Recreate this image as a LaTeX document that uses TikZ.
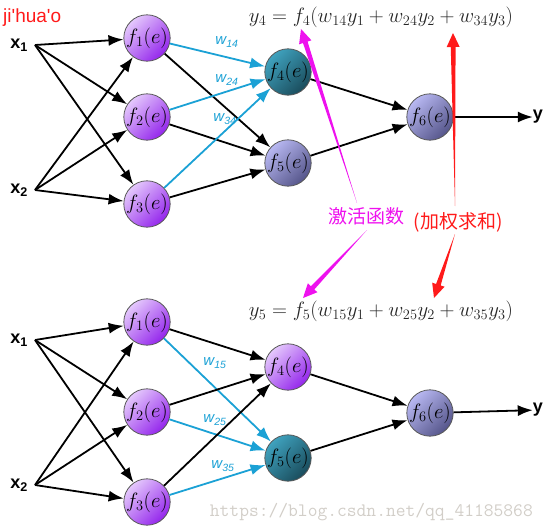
\documentclass[tikz,border=0pt]{standalone}
\usepackage{fontspec}
\setsansfont{Liberation Sans}
\newfontfamily\cjkfont{Noto Sans CJK SC}
\usetikzlibrary{positioning, arrows.meta, calc}
\definecolor{NetBlue}{HTML}{1BA1D5}
\definecolor{PurpleLight}{HTML}{E4C8FC}
\definecolor{PurpleDark}{HTML}{9426EC}
\definecolor{TealLight}{HTML}{3FA2BE}
\definecolor{TealDark}{HTML}{1A4C5C}
\definecolor{LavLight}{HTML}{B8B8F2}
\definecolor{LavDark}{HTML}{55558A}
\definecolor{EqGray}{HTML}{262626}
\definecolor{MarkRed}{HTML}{FF1A1A}
\definecolor{MarkMagenta}{HTML}{EE11EE}
\definecolor{WebGray}{HTML}{D2CEC8}
% wedge arrow: colour, tail, head
\newcommand{\taperarrow}[3]{%
  \fill[#1] (#2) -- ($(#3)!14pt!(#2)!2.4pt!90:(#3)$) -- ($(#3)!14pt!(#2)!6.5pt!90:(#3)$)
    -- (#3) -- ($(#3)!14pt!(#2)!6.5pt!-90:(#3)$) -- ($(#3)!14pt!(#2)!2.4pt!-90:(#3)$) -- cycle;}

\begin{document}
\begin{tikzpicture}[x=1pt, y=-1pt,
  neuron/.style={circle, minimum size=44pt, inner sep=0pt, draw=black!65, line width=0.8pt,
    font=\fontsize{19.5}{19.5}\selectfont},
  hid/.style={neuron, top color=PurpleLight, bottom color=PurpleDark, shading angle=45},
  act/.style={neuron, top color=TealLight, bottom color=TealDark, shading angle=45},
  outn/.style={neuron, top color=LavLight, bottom color=LavDark, shading angle=45},
  inp/.style={font=\fontsize{18}{18}\sffamily\bfseries, inner sep=0pt},
  arr/.style={line width=1.8pt, -{Latex[length=15pt, width=11pt]}},
  warr/.style={arr, NetBlue},
  wlbl/.style={font=\fontsize{15}{15}\sffamily\itshape, text=NetBlue, inner sep=0pt},
  eq/.style={font=\fontsize{21}{21}\selectfont, text=EqGray, inner sep=0pt},
  note/.style={inner sep=0pt, font=\fontsize{19}{19}\cjkfont},
]
  \useasboundingbox (0,0) rectangle (544,531);

  % top network
  \coordinate (tin1) at (35,45);
  \coordinate (tin2) at (35,190);
  \node[inp, left=7pt of tin1] (tx1) {x\textsubscript{1}};
  \node[inp, left=7pt of tin2] (tx2) {x\textsubscript{2}};
  \node[hid] (t1) at (147,38) {$f_1(e)$};
  \node[hid] (t2) at (147,117) {$f_2(e)$};
  \node[hid] (t3) at (147,204) {$f_3(e)$};
  \node[act] (t4) at (288,72) {$f_4(e)$};
  \node[outn] (t5) at (288,163) {$f_5(e)$};
  \node[outn] (t6) at (430,117) {$f_6(e)$};
  \node[inp] (ty) at (538,117) {y};
  \foreach \i in {1,2}
    \foreach \j in {1,2,3}
      \draw[arr] (tin\i) -- (t\j);
  \foreach \j in {1,2,3} {
    \draw[arr] (t\j) -- (t5);
    \draw[warr] (t\j) -- (t4);
  }
  \draw[arr] (t4) -- (t6);
  \draw[arr] (t5) -- (t6);
  \draw[arr] (t6) -- (ty);
  \node[wlbl] (tw1) at (227,42) {w\textsubscript{14}};
  \node[wlbl] (tw2) at (227,80) {w\textsubscript{24}};
  \node[wlbl] (tw3) at (225,119) {w\textsubscript{34}};
  \node[eq] (eq4) at (381,17) {$y_4 = f_4(w_{14}y_1 + w_{24}y_2 + w_{34}y_3)$};

  % bottom network
  \coordinate (bin1) at (35,340);
  \coordinate (bin2) at (35,485);
  \node[inp, left=7pt of bin1] (bx1) {x\textsubscript{1}};
  \node[inp, left=7pt of bin2] (bx2) {x\textsubscript{2}};
  \node[hid] (b1) at (147,322) {$f_1(e)$};
  \node[hid] (b2) at (147,412) {$f_2(e)$};
  \node[hid] (b3) at (147,502) {$f_3(e)$};
  \node[hid] (b4) at (288,367) {$f_4(e)$};
  \node[act] (b5) at (288,458) {$f_5(e)$};
  \node[outn] (b6) at (430,413) {$f_6(e)$};
  \node[inp] (by) at (538,410) {y};
  \foreach \i in {1,2}
    \foreach \j in {1,2,3}
      \draw[arr] (bin\i) -- (b\j);
  \foreach \j in {1,2,3} {
    \draw[arr] (b\j) -- (b4);
    \draw[warr] (b\j) -- (b5);
  }
  \draw[arr] (b4) -- (b6);
  \draw[arr] (b5) -- (b6);
  \draw[arr] (b6) -- (by);
  \node[wlbl] (bw1) at (215,363) {w\textsubscript{15}};
  \node[wlbl] (bw2) at (215,420) {w\textsubscript{25}};
  \node[wlbl] (bw3) at (223,466) {w\textsubscript{35}};
  \node[eq] (eq5) at (381,311) {$y_5 = f_5(w_{15}y_1 + w_{25}y_2 + w_{35}y_3)$};

  % notes
  \node[inner sep=0pt, anchor=west, font=\fontsize{19}{19}\sffamily, text=MarkRed] (jh) at (3,18)
    {ji\textquotesingle hua\textquotesingle o};
  \node[note, text=MarkMagenta] (actlbl) at (366,216) {激活函数};
  \node[note, text=MarkRed] (sumlbl) at (458,222) {(加权求和)};
  \coordinate (mt0) at (357,203);
  \coordinate (mt1) at (301,29);
  \coordinate (mb0) at (367,230);
  \coordinate (mb1) at (303,298);
  \coordinate (rt0) at (455,206);
  \coordinate (rt1) at (453,33);
  \coordinate (rb0) at (455,234);
  \coordinate (rb1) at (434,298);
  \taperarrow{MarkMagenta}{mt0}{mt1}
  \taperarrow{MarkMagenta}{mb0}{mb1}
  \taperarrow{MarkRed}{rt0}{rt1}
  \taperarrow{MarkRed}{rb0}{rb1}

  \node[inner sep=0pt, anchor=east, font=\fontsize{19}{19}\ttfamily, text=WebGray] (web) at (533,512)
    {https://blog.csdn.net/qq\_41185868};
\end{tikzpicture}
\end{document}
